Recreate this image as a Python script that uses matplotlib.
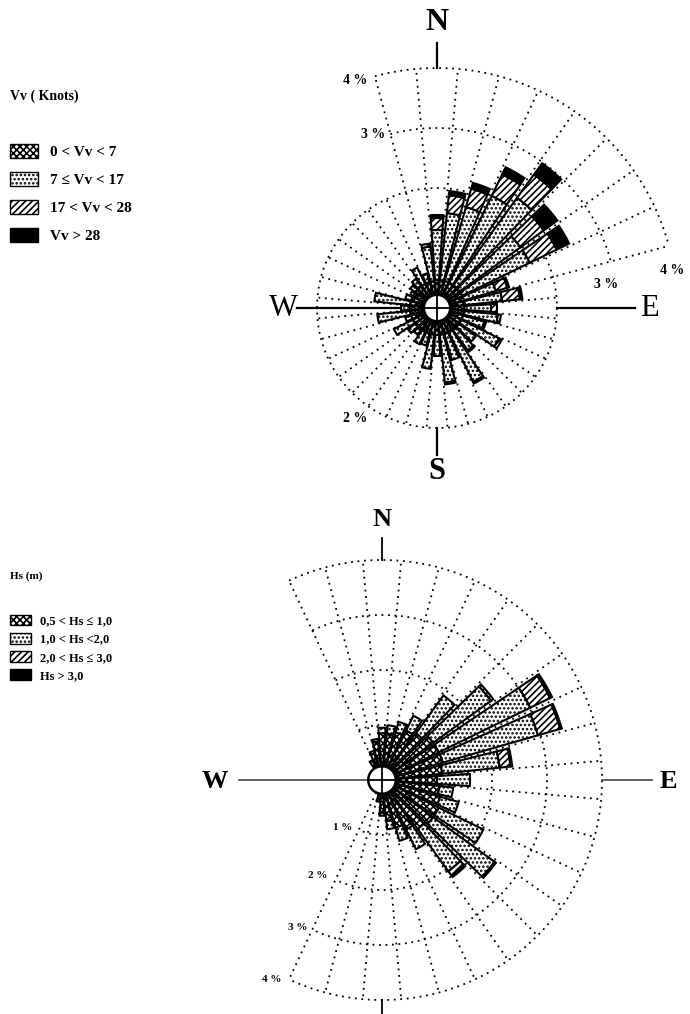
import numpy as np
import matplotlib.pyplot as plt
from matplotlib.patches import Patch

plt.rcParams['font.family'] = ['Liberation Serif', 'DejaVu Serif']
plt.rcParams['hatch.linewidth'] = 1.2

W, H = 690, 1014

directions = np.arange(0, 360, 10)

# wind speed (Vv, knots) - % per class and direction (N, 10, 20 ... 350)
vv_0_7 = [0.25, 0.25, 0.25, 0.25, 0.25, 0.25, 0.25, 0.25, 0.25, 0.23, 0.23, 0.23,
          0.23, 0.23, 0.23, 0.23, 0.23, 0.23, 0.23, 0.23, 0.23, 0.23, 0.23, 0.23,
          0.23, 0.23, 0.23, 0.23, 0.23, 0.23, 0.23, 0.23, 0.23, 0.23, 0.23, 0.23]
vv_7_17 = [0.83, 1.12, 1.28, 1.61, 1.80, 1.25, 1.25, 0.55, 0.62, 0.45, 0.57, 0.37,
           0.70, 0.35, 0.42, 0.92, 0.45, 0.80, 0.35, 0.57, 0.20, 0.22, 0.10, 0.15,
           0.35, 0.10, 0.55, 0.15, 0.60, 0.10, 0.05, 0.10, 0.15, 0.30, 0.15, 0.58]
vv_17_28 = [0.20, 0.30, 0.32, 0.40, 0.48, 0.48, 0.50, 0.20, 0.30, 0.10, 0.05, 0.03,
            0.05, 0.00, 0.03, 0.03, 0.00, 0.03, 0.00, 0.00, 0.00, 0.00, 0.00, 0.00,
            0.00, 0.00, 0.00, 0.00, 0.00, 0.00, 0.00, 0.00, 0.00, 0.00, 0.00, 0.05]
vv_28 = [0.05, 0.07, 0.10, 0.13, 0.23, 0.28, 0.23, 0.03, 0.04, 0.00, 0.00, 0.00,
         0.00, 0.00, 0.00, 0.00, 0.00, 0.00, 0.00, 0.00, 0.00, 0.00, 0.00, 0.00,
         0.00, 0.00, 0.00, 0.00, 0.00, 0.00, 0.00, 0.00, 0.00, 0.00, 0.00, 0.00]

# significant wave height (Hs, m)
hs_05_1 = [0.60, 0.60, 0.65, 0.75, 0.80, 0.90, 0.90, 0.90, 0.85, 0.75, 0.80, 0.85,
           0.90, 0.90, 0.85, 0.75, 0.65, 0.50, 0.35, 0.15, 0.00, 0.00, 0.00, 0.00,
           0.00, 0.00, 0.00, 0.00, 0.00, 0.00, 0.00, 0.00, 0.00, 0.15, 0.25, 0.45]
hs_1_2 = [0.10, 0.15, 0.20, 0.30, 0.85, 1.30, 1.85, 1.80, 1.05, 0.60, 0.25, 0.35,
          0.90, 1.38, 0.95, 0.40, 0.25, 0.15, 0.05, 0.00, 0.00, 0.00, 0.00, 0.00,
          0.00, 0.00, 0.00, 0.00, 0.00, 0.00, 0.00, 0.00, 0.00, 0.00, 0.05, 0.05]
hs_2_3 = [0.00, 0.00, 0.00, 0.00, 0.00, 0.05, 0.40, 0.42, 0.20, 0.00, 0.00, 0.00,
          0.00, 0.03, 0.10, 0.00, 0.00, 0.00, 0.00, 0.00, 0.00, 0.00, 0.00, 0.00,
          0.00, 0.00, 0.00, 0.00, 0.00, 0.00, 0.00, 0.00, 0.00, 0.00, 0.00, 0.00]
hs_3 = [0.00, 0.00, 0.00, 0.00, 0.00, 0.00, 0.04, 0.03, 0.03, 0.00, 0.00, 0.00,
        0.00, 0.00, 0.03, 0.00, 0.00, 0.00, 0.00, 0.00, 0.00, 0.00, 0.00, 0.00,
        0.00, 0.00, 0.00, 0.00, 0.00, 0.00, 0.00, 0.00, 0.00, 0.00, 0.00, 0.00]

vv_labels = ["0 < Vv < 7", "7 \u2264 Vv < 17", "17 < Vv < 28", "Vv > 28"]
hs_labels = ["0,5 < Hs \u2264 1,0", "1,0 < Hs <2,0", "2,0 < Hs \u2264 3,0", "Hs > 3,0"]

hatches = ['xxxxx', '....', '/////', None]
fills = ['white', 'white', 'white', 'black']
dots = (0, (1, 2.6))


def make_axes(fig, cx, cy, scale, rmax):
    rad = scale * rmax
    ax = fig.add_axes([(cx - rad) / W, (H - cy - rad) / H, 2 * rad / W, 2 * rad / H],
                      projection='polar')
    ax.set_theta_zero_location('N')
    ax.set_theta_direction(-1)
    ax.set_ylim(0, rmax)
    ax.set_axis_off()
    return ax


def arc(ax, r, a0, a1):
    t = np.deg2rad(np.linspace(a0, a1, 300))
    ax.plot(t, np.full_like(t, r), color='black', lw=1.3, ls=dots, zorder=1)


def spoke(ax, a, r1, r2, **kw):
    t = np.deg2rad(a)
    ax.plot([t, t], [r1, r2], clip_on=False, **kw)


def rose(ax, classes, r0, width):
    theta = np.deg2rad(directions)
    bottom = np.full(len(directions), r0)
    for vals, hatch, fc in zip(classes, hatches, fills):
        vals = np.array(vals)
        m = vals > 0
        ax.bar(theta[m], vals[m], width=np.deg2rad(width), bottom=bottom[m],
               color=fc, edgecolor='black', hatch=hatch, linewidth=1.5, zorder=3)
        bottom = bottom + vals


def center(ax, r0):
    t = np.linspace(0, 2 * np.pi, 100)
    ax.fill(t, np.full_like(t, r0), color='white', zorder=5)
    ax.plot(t, np.full_like(t, r0), color='black', lw=1.8, zorder=6)
    ax.plot([0, 0, np.pi], [r0, 0, r0], color='black', lw=1.3, zorder=6)
    ax.plot([np.pi / 2, 0, 3 * np.pi / 2], [r0, 0, r0], color='black', lw=1.3, zorder=6)


def px_text(x, y, s, **kw):
    fig.text(x / W, 1 - y / H, s, ha='center', va='center', **kw)


fig = plt.figure(figsize=(6.9, 10.14), dpi=100)

# ---- wind rose (top)
ax1 = make_axes(fig, 437, 308, 60, 4.1)
r0 = 0.22
arc(ax1, 2, 0, 360)
arc(ax1, 3, -15, 75)
arc(ax1, 4, -15, 75)
for a in range(5, 360, 10):
    rmax = 4 if (a <= 75 or a >= 345) else 2
    spoke(ax1, a, r0, rmax, color='black', lw=1.3, ls=dots, zorder=1)
spoke(ax1, 0, 4.0, 4.42, color='black', lw=1.6)
spoke(ax1, 180, 2.0, 2.45, color='black', lw=1.6)
spoke(ax1, 270, 0, 2.33, color='black', lw=1.6, zorder=2)
spoke(ax1, 90, 2.0, 3.3, color='black', lw=1.6)
rose(ax1, [vv_0_7, vv_7_17, vv_17_28, vv_28], r0, 8)
center(ax1, r0)

px_text(437, 22, "N", fontsize=23, fontweight='bold')
px_text(437, 472, "S", fontsize=22, fontweight='bold')
px_text(283, 309, "W", fontsize=22)
px_text(649, 309, "E", fontsize=22)
px_text(355, 80, "4 %", fontsize=10, fontweight='bold')
px_text(373, 135, "3 %", fontsize=10, fontweight='bold')
px_text(606, 284, "3 %", fontsize=10, fontweight='bold')
px_text(672, 271, "4 %", fontsize=10, fontweight='bold')
px_text(355, 418, "2 %", fontsize=10, fontweight='bold')

fig.text(10 / W, 1 - 96 / H, "Vv ( Knots)", fontsize=10, fontweight='bold', va='center')
handles = [Patch(facecolor=f, edgecolor='black', hatch=h) for h, f in zip(hatches, fills)]
fig.legend(handles, vv_labels, loc='upper left', bbox_to_anchor=(10 / W, 1 - 144 / H),
           frameon=False, prop={'weight': 'bold', 'size': 11},
           handlelength=1.8, handleheight=1.0, handletextpad=0.8, labelspacing=0.85,
           borderpad=0, borderaxespad=0)

# ---- wave rose (bottom)
ax2 = make_axes(fig, 382, 780, 55, 4.1)
r0 = 0.25
for r in [1, 2, 3, 4]:
    arc(ax2, r, -25, 205)
for a in range(-25, 206, 10):
    spoke(ax2, a, r0, 4, color='black', lw=1.3, ls=dots, zorder=1)
spoke(ax2, 0, 4.0, 4.4, color='black', lw=1.3)
spoke(ax2, 180, 4.0, 4.5, color='black', lw=1.3)
spoke(ax2, 270, 0, 2.6, color='#555555', lw=1.3, zorder=2)
spoke(ax2, 90, 4.0, 4.9, color='#555555', lw=1.3)
rose(ax2, [hs_05_1, hs_1_2, hs_2_3, hs_3], r0, 8)
center(ax2, r0)

px_text(382, 519, "N", fontsize=19, fontweight='bold')
px_text(215, 782, "W", fontsize=19, fontweight='bold')
px_text(668, 782, "E", fontsize=19, fontweight='bold')
px_text(343, 828, "1 %", fontsize=8, fontweight='bold')
px_text(318, 875, "2 %", fontsize=8, fontweight='bold')
px_text(298, 928, "3 %", fontsize=8, fontweight='bold')
px_text(272, 980, "4 %", fontsize=8, fontweight='bold')

fig.text(10 / W, 1 - 576 / H, "Hs (m)", fontsize=8, fontweight='bold', va='center')
fig.legend(handles, hs_labels, loc='upper left', bbox_to_anchor=(10 / W, 1 - 615 / H),
           frameon=False, prop={'weight': 'bold', 'size': 9},
           handlelength=1.7, handleheight=0.9, handletextpad=0.7, labelspacing=0.45,
           borderpad=0, borderaxespad=0)

fig.savefig("out.png", dpi=100)
